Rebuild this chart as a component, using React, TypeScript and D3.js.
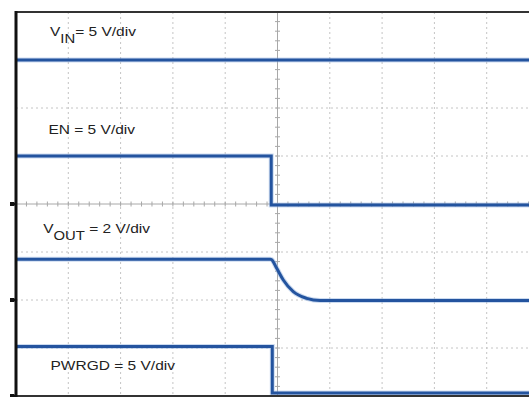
import React from "react";
import * as d3 from "d3";

// Oscilloscope screen: 10 horizontal divisions, 8 vertical divisions
const TIME_DIVS = [0, 10];
const AMP_DIVS = [0, 8];

// Traces (time in divisions, level in divisions from bottom of screen)
const vinTime = [0, 10];
const vinLevel = [7.0, 7.0];

const enTime = [0, 4.88, 4.88, 10];
const enLevel = [5.0, 5.0, 3.98, 3.98];

const voutTime = [0, 4.86, 4.889, 4.985, 5.111, 5.302, 5.558, 5.813, 10];
const voutLevel = [2.85, 2.85, 2.84, 2.66, 2.417, 2.173, 2.035, 1.99, 1.99];

const pgTime = [0, 4.9, 4.9, 10];
const pgLevel = [1.03, 1.03, 0.06, 0.06];

// Ground reference markers (divisions)
const groundMarkers = [4, 2, 0];

const labels = [
  { main: "V", sub: "IN", rest: "= 5 V/div", t: 0.65, lv: 7.5 },
  { main: "EN = 5 V/div", sub: "", rest: "", t: 0.62, lv: 5.45 },
  { main: "V", sub: "OUT", rest: " = 2 V/div", t: 0.52, lv: 3.4 },
  { main: "PWRGD = 5 V/div", sub: "", rest: "", t: 0.66, lv: 0.55 },
];

const W = 529;
const H = 397;
const TRACE = "#24549f";

export default function App() {
  const x = d3.scaleLinear().domain(TIME_DIVS).range([16, 539]);
  const y = d3.scaleLinear().domain(AMP_DIVS).range([396, 12]);
  const line = d3
    .line<[number, number]>()
    .x((d) => x(d[0]))
    .y((d) => y(d[1]));
  const smooth = d3
    .line<[number, number]>()
    .x((d) => x(d[0]))
    .y((d) => y(d[1]))
    .curve(d3.curveMonotoneX);
  const pts = (t: number[], v: number[]) => t.map((tt, i) => [tt, v[i]]) as [number, number][];

  const traces = [
    line(pts(vinTime, vinLevel)) || "",
    line(pts(enTime, enLevel)) || "",
    smooth(pts(voutTime, voutLevel)) || "",
    line(pts(pgTime, pgLevel)) || "",
  ];

  const vGrid = d3.range(1, 10).filter((d) => d !== 5);
  const hGrid = d3.range(1, 8).filter((d) => d !== 4);
  const minorX = d3.range(0, 10.01, 0.2);
  const minorY = d3.range(0, 8.01, 0.2);

  return (
    <svg
      width={W}
      height={H}
      style={{ position: "absolute", left: 0, top: 0, background: "#fff" }}
    >
      <rect x={0} y={0} width={W} height={H} fill="#fff" />
      {/* grid */}
      {vGrid.map((d) => (
        <line
          key={"v" + d}
          x1={x(d)}
          x2={x(d)}
          y1={y(8)}
          y2={y(0)}
          stroke="#c4c4c4"
          strokeWidth={1}
          strokeDasharray="2,3"
        />
      ))}
      {hGrid.map((d) => (
        <line
          key={"h" + d}
          x1={x(0)}
          x2={x(10)}
          y1={y(d)}
          y2={y(d)}
          stroke="#c4c4c4"
          strokeWidth={1}
          strokeDasharray="2,3"
        />
      ))}
      {/* center axes */}
      <line x1={x(5)} x2={x(5)} y1={y(8)} y2={y(0)} stroke="#a8a8a8" strokeWidth={1} />
      <line x1={x(0)} x2={x(10)} y1={y(4)} y2={y(4)} stroke="#a8a8a8" strokeWidth={1} />
      {minorX.map((d, i) => (
        <line key={"mx" + i} x1={x(d)} x2={x(d)} y1={y(4) - 2.5} y2={y(4) + 2.5} stroke="#a8a8a8" strokeWidth={1} />
      ))}
      {minorY.map((d, i) => (
        <line key={"my" + i} x1={x(5) - 2.5} x2={x(5) + 2.5} y1={y(d)} y2={y(d)} stroke="#a8a8a8" strokeWidth={1} />
      ))}

      {/* traces */}
      {traces.map((p, i) => (
        <path key={"halo" + i} d={p} fill="none" stroke="#8fb0dd" strokeWidth={5} strokeOpacity={0.45} />
      ))}
      {traces.map((p, i) => (
        <path key={"tr" + i} d={p} fill="none" stroke={TRACE} strokeWidth={3} strokeLinejoin="miter" />
      ))}

      {/* labels */}
      {labels.map((l, i) => (
        <g key={"lab" + i} transform={`translate(${x(l.t)},${y(l.lv)}) scale(1.24,1)`}>
          <text
            x={0}
            y={0}
            fontFamily="'Liberation Sans', Arial, sans-serif"
            fontSize={12.5}
            fill="#222"
          >
            {l.main}
            {l.sub ? (
              <tspan dy={7} fontSize={12}>
                {l.sub}
              </tspan>
            ) : null}
            {l.rest ? <tspan dy={-7}>{l.rest}</tspan> : null}
          </text>
        </g>
      ))}

      {/* frame */}
      <line x1={x(0)} x2={W} y1={y(8)} y2={y(8)} stroke="#333" strokeWidth={2} />
      <line x1={x(0)} x2={W} y1={y(0)} y2={y(0)} stroke="#333" strokeWidth={2} />
      <line x1={x(0)} x2={x(0)} y1={y(8) - 1} y2={y(0) + 1} stroke="#111" strokeWidth={3} />

      {/* ground markers */}
      {groundMarkers.map((g, i) => (
        <path
          key={"gm" + i}
          d={`M${x(0) - 6},${y(g) - 2}L${x(0) - 2},${y(g) - 2}L${x(0)},${y(g)}L${x(0) - 2},${y(g) + 2}L${x(0) - 6},${y(g) + 2}Z`}
          fill="#111"
        />
      ))}
    </svg>
  );
}
